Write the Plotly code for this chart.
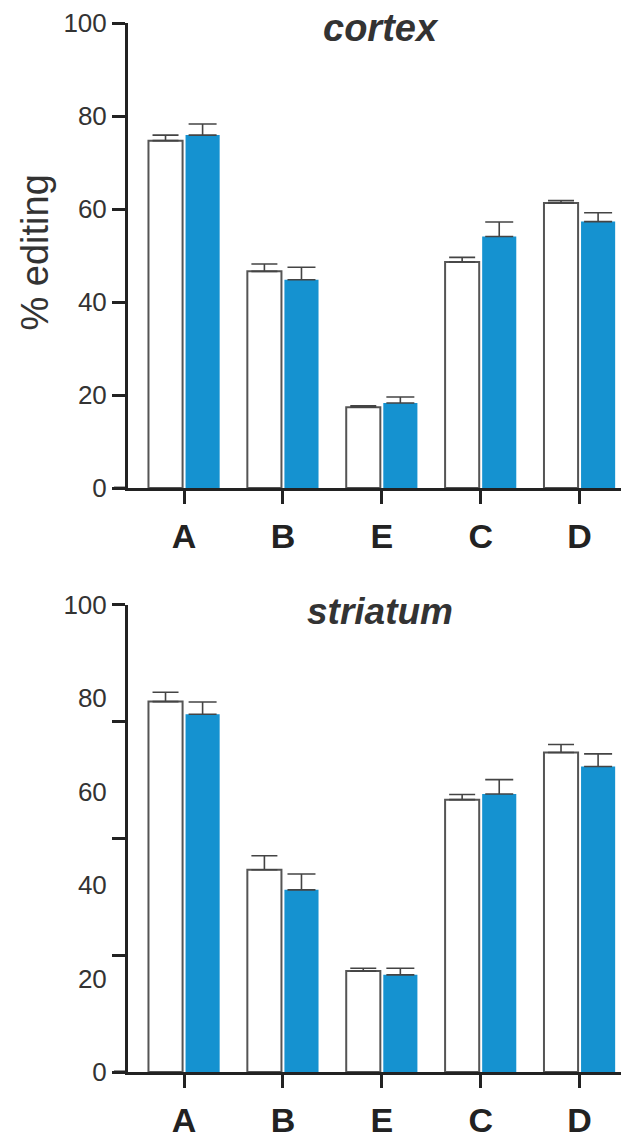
import plotly.graph_objects as go

categories = ["A", "B", "E", "C", "D"]

cortex_white = [74.7, 46.6, 17.4, 48.6, 61.3]
cortex_white_err = [1.2, 1.6, 0.3, 1.0, 0.5]
cortex_blue = [75.9, 44.8, 18.3, 54.1, 57.3]
cortex_blue_err = [2.4, 2.7, 1.3, 3.1, 1.9]

striatum_white = [79.3, 43.3, 21.6, 58.3, 68.4]
striatum_white_err = [2.0, 3.0, 0.6, 1.1, 1.7]
striatum_blue = [76.6, 39.0, 20.8, 59.5, 65.4]
striatum_blue_err = [2.6, 3.4, 1.4, 3.1, 2.7]

y_label_ticks = [0, 20, 40, 60, 80, 100]
striatum_mark_ticks = [0, 25, 50, 75, 100]

BLUE = "#1592D0"
AX = "#222222"
FONT = "Liberation Sans"
xpos = list(range(len(categories)))


def add_pair(fig, white, werr, blue, berr, xa, ya):
    fig.add_trace(go.Bar(
        x=xpos, y=white, xaxis=xa, yaxis=ya, showlegend=False,
        marker=dict(color="white", line=dict(color="#555555", width=2)),
        error_y=dict(type="data", array=werr, arrayminus=[0] * len(werr), symmetric=False,
                     color="#444444", thickness=1.6, width=13),
    ))
    fig.add_trace(go.Bar(
        x=xpos, y=blue, xaxis=xa, yaxis=ya, showlegend=False,
        marker=dict(color=BLUE, line=dict(width=0)),
        error_y=dict(type="data", array=berr, arrayminus=[0] * len(berr), symmetric=False,
                     color="#444444", thickness=1.6, width=14),
    ))


fig = go.Figure()
add_pair(fig, cortex_white, cortex_white_err, cortex_blue, cortex_blue_err, "x", "y")
add_pair(fig, striatum_white, striatum_white_err, striatum_blue, striatum_blue_err, "x2", "y2")
fig.add_trace(go.Scatter(x=[], y=[], xaxis="x2", yaxis="y3", showlegend=False, hoverinfo="skip"))

OFF = 8  # page body margin
W, H = 629 - OFF, 1139 - OFF
ml, mr, mt, mb = 128 - OFF, 0, 22 - OFF, 66
ph = H - mt - mb
pw = W - ml - mr


def py(pix):
    return (H - (pix - OFF) - mb) / ph


def px(pix):
    return (pix - OFF - ml) / pw


xr = [-0.567, 4.5]
xcommon = dict(range=xr, tickmode="array", tickvals=xpos, ticktext=categories,
               showline=True, linecolor=AX, linewidth=3, ticks="outside", ticklen=13,
               tickwidth=3, tickcolor=AX, showgrid=False, zeroline=False,
               tickfont=dict(family=FONT, size=34, color=AX, weight="bold"),
               ticklabelstandoff=3, fixedrange=True)
ycommon = dict(range=[0, 100], showline=True, linecolor=AX, linewidth=3, showgrid=False,
               zeroline=False, tickmode="array", tickvals=y_label_ticks,
               tickfont=dict(family=FONT, size=26, color="#333333"), fixedrange=True)

fig.update_layout(
    width=W, height=H,
    margin=dict(l=ml, r=mr, t=mt, b=mb),
    paper_bgcolor="white", plot_bgcolor="white",
    barmode="group", bargap=0.25, bargroupgap=0.08,
    xaxis=dict(domain=[0, 1], anchor="y", **xcommon),
    yaxis=dict(domain=[py(488), 1.0], anchor="x", ticks="outside", ticklen=13, tickwidth=3,
               tickcolor=AX, **ycommon),
    xaxis2=dict(domain=[0, 1], anchor="y2", **xcommon),
    yaxis2=dict(domain=[0, py(605)], anchor="x2", ticks="outside", ticklen=13, tickwidth=0,
                tickcolor="rgba(0,0,0,0)", **ycommon),
    yaxis3=dict(range=[0, 100], overlaying="y2", anchor="x2", side="left",
                tickmode="array", tickvals=striatum_mark_ticks, ticks="outside",
                ticklen=13, tickwidth=3, tickcolor=AX, showticklabels=False,
                showline=True, linecolor=AX, linewidth=3, showgrid=False,
                zeroline=False, fixedrange=True),
    shapes=[
        dict(type="line", xref="paper", yref="y", x0=px(114), x1=0, y0=0, y1=0,
             line=dict(color=AX, width=3)),
        dict(type="line", xref="paper", yref="y2", x0=px(114), x1=0, y0=0, y1=0,
             line=dict(color=AX, width=3)),
    ],
    annotations=[
        dict(text="<b><i>cortex</i></b>", xref="paper", yref="paper", x=px(381), y=py(27),
             xanchor="center", yanchor="middle", showarrow=False,
             font=dict(family=FONT, size=38, color="#333333")),
        dict(text="<b><i>striatum</i></b>", xref="paper", yref="paper", x=px(380), y=py(612),
             xanchor="center", yanchor="middle", showarrow=False,
             font=dict(family=FONT, size=37, color="#333333")),
        dict(text="% editing", xref="paper", yref="paper", x=px(35), y=py(252),
             xanchor="center", yanchor="middle", textangle=-90, showarrow=False,
             font=dict(family=FONT, size=38, color="#333333")),
    ],
)

fig.write_html("out.html")
